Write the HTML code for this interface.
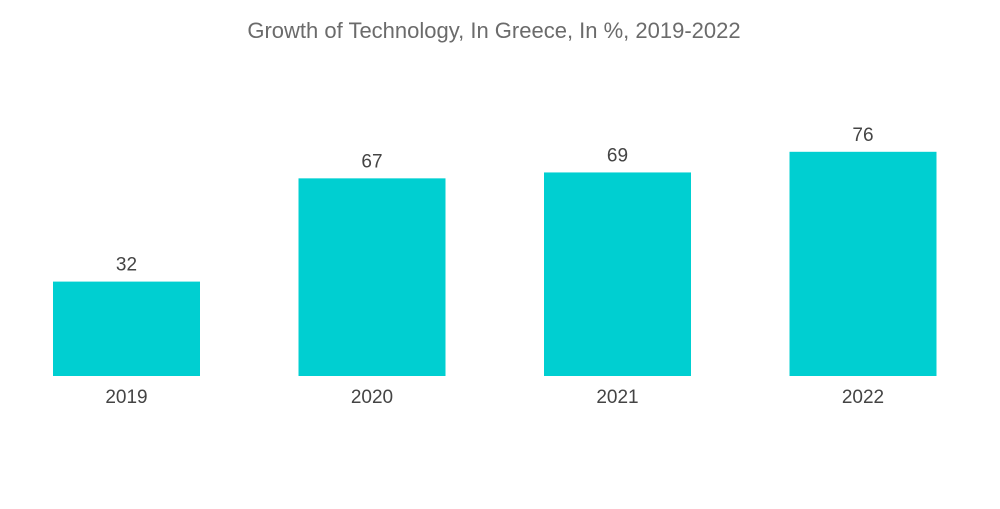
<!DOCTYPE html>
<html>
<head>
<meta charset="utf-8">
<style>
  html, body { margin: 0; padding: 0; background: #ffffff; }
  body { width: 1000px; height: 504px; overflow: hidden; font-family: "Liberation Sans", "DejaVu Sans", sans-serif; }
</style>
</head>
<body>
<svg id="chart" width="1000" height="504" viewBox="0 0 1000 504" xmlns="http://www.w3.org/2000/svg">
  <text x="494" y="38" text-anchor="middle" font-family="Liberation Sans, sans-serif" font-size="22" fill="#6b6b6b">Growth of Technology, In Greece, In %, 2019-2022</text>
  <g id="bars"></g>
</svg>
<script>
const categories = ["2019", "2020", "2021", "2022"];
const values = [32, 67, 69, 76];
const valueLabels = ["32", "67", "69", "76"];

const baseline = 376;
const pxPerUnit = 2.95;
const firstLeft = 53;
const step = 245.5;
const barWidth = 147;
function yScale(v) { return baseline - v * pxPerUnit; }
function xScale(i) { return firstLeft + i * step; }

const ns = "http://www.w3.org/2000/svg";
const g = document.getElementById("bars");
categories.forEach(function (cat, i) {
  const x = xScale(i);
  const y = yScale(values[i]);
  const rect = document.createElementNS(ns, "rect");
  
  
  rect.setAttribute("x", x);
  rect.setAttribute("y", y);
  rect.setAttribute("width", barWidth);
  rect.setAttribute("height", baseline - y);
  rect.setAttribute("fill", "#00cfd1");
  g.appendChild(rect);

  const vt = document.createElementNS(ns, "text");
  
  
  vt.setAttribute("x", x + barWidth / 2);
  vt.setAttribute("y", y - 11);
  vt.setAttribute("text-anchor", "middle");
  vt.setAttribute("font-size", "19");
  vt.setAttribute("fill", "#444444");
  vt.textContent = valueLabels[i];
  g.appendChild(vt);

  const ct = document.createElementNS(ns, "text");
  
  
  ct.setAttribute("x", x + barWidth / 2);
  ct.setAttribute("y", 403);
  ct.setAttribute("text-anchor", "middle");
  ct.setAttribute("font-size", "19");
  ct.setAttribute("fill", "#444444");
  ct.textContent = cat;
  g.appendChild(ct);
});
</script>
</body>
</html>
